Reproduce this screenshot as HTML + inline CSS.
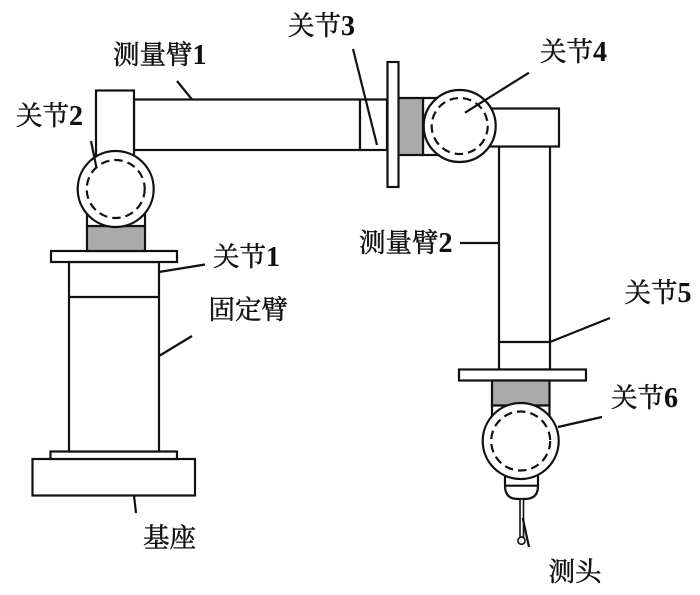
<!DOCTYPE html>
<html lang="zh">
<head>
<meta charset="utf-8">
<style>
html,body{margin:0;padding:0;background:#fff}
svg{display:block}
text{font-family:"Liberation Serif","Noto Serif CJK SC",serif;font-size:26.5px;fill:#111;stroke:#111;stroke-width:.45px}
tspan{font-size:28px;font-weight:bold;stroke-width:.1px}
.s{fill:#fff;stroke:#111;stroke-width:2.2}
.g{fill:#aaa;stroke:#111;stroke-width:2.2}
.d{fill:none;stroke:#111;stroke-width:2.2;stroke-dasharray:8.5 5}
.l{fill:none;stroke:#111;stroke-width:2.2}
</style>
</head>
<body>
<svg width="700" height="595" viewBox="0 0 700 595" xmlns="http://www.w3.org/2000/svg">
<!-- base column -->
<rect class="s" x="32.5" y="459" width="162.5" height="36.5"/>
<rect class="s" x="50.5" y="451.5" width="126.5" height="7.5"/>
<rect class="s" x="69" y="262" width="90" height="189.5"/>
<path class="l" d="M69 297H159"/>
<rect class="s" x="51" y="251" width="126" height="11"/>
<rect class="g" x="87" y="226" width="58" height="25"/>
<rect class="s" x="87" y="205" width="58" height="21"/>
<!-- arm 1 -->
<rect class="s" x="134" y="99.5" width="226" height="50.5"/>
<rect class="s" x="360" y="99.5" width="27" height="50.5"/>
<rect class="s" x="96" y="90.5" width="38" height="90"/>
<circle class="s" cx="115.7" cy="189" r="38"/>
<circle class="d" cx="115.7" cy="189" r="29"/>
<!-- joint 3/4 -->
<rect class="s" x="423" y="98" width="30" height="57"/>
<rect class="g" x="398" y="98" width="25" height="57"/>
<rect class="s" x="387.5" y="62" width="11" height="125"/>
<!-- arm 2 -->
<rect class="s" x="499" y="146.5" width="51" height="223"/>
<path class="l" d="M499 342H550"/>
<rect class="s" x="470" y="108.5" width="89" height="38"/>
<circle class="s" cx="459.7" cy="126" r="36"/>
<circle class="d" cx="459.7" cy="126" r="28"/>
<!-- lower joint -->
<rect class="s" x="459" y="369.5" width="127" height="11"/>
<rect class="g" x="492" y="380.5" width="57.5" height="25"/>
<rect class="s" x="492" y="405.5" width="57.5" height="20"/>
<!-- probe -->
<path class="s" d="M505 470V486Q505 499 518 499H525Q538 499 538 486V470Z"/>
<path class="l" d="M505 485.7H538"/>
<path class="s" d="M520 499V537H523.5V499Z" style="stroke-width:1.6"/>
<circle class="s" cx="521.5" cy="540.7" r="3.6" style="stroke-width:1.6"/>
<circle class="s" cx="520.7" cy="441" r="38"/>
<circle class="d" cx="520.7" cy="441" r="29.5"/>
<!-- leaders -->
<path class="l" d="M177 81L192 99.5"/>
<path class="l" d="M91 141L96.5 168"/>
<path class="l" d="M353 49L377 145"/>
<path class="l" d="M529 72.7L465 112.7"/>
<path class="l" d="M159 272L205 264.5"/>
<path class="l" d="M159 356L192 336"/>
<path class="l" d="M460 243H499"/>
<path class="l" d="M550 342L610 318"/>
<path class="l" d="M558 427L602 417"/>
<path class="l" d="M134 495.5L136 513"/>
<path class="l" d="M522.7 518L529 547"/>
<!-- labels -->
<text x="288" y="35">关节<tspan>3</tspan></text>
<text x="113" y="64">测量臂<tspan>1</tspan></text>
<text x="540" y="61">关节<tspan>4</tspan></text>
<text x="16" y="125">关节<tspan>2</tspan></text>
<text x="213" y="266">关节<tspan>1</tspan></text>
<text x="208.5" y="319">固定臂</text>
<text x="359" y="252">测量臂<tspan>2</tspan></text>
<text x="624.5" y="302">关节<tspan>5</tspan></text>
<text x="611" y="407">关节<tspan>6</tspan></text>
<text x="143" y="547">基座</text>
<text x="548.5" y="581">测头</text>
</svg>
</body>
</html>
